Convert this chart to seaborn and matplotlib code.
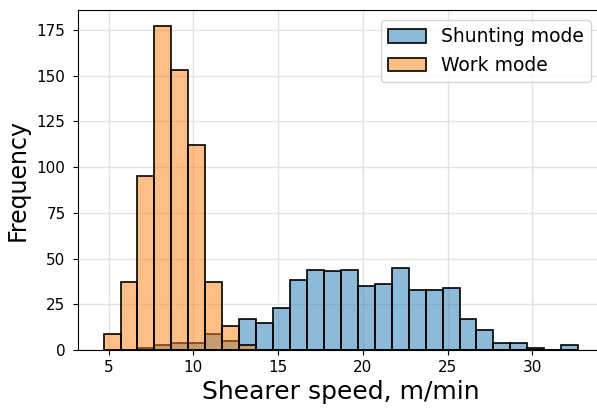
import numpy as np
import pandas as pd
import matplotlib
matplotlib.use("Agg")
import matplotlib.pyplot as plt
import seaborn as sns

# histogram counts per 1 m/min bin, bins start at 4.7 m/min
bin_start = 4.7
bin_width = 1.0
shunting_counts = [0, 0, 1, 3, 4, 4, 9, 5, 17, 15, 23, 38, 44, 43, 44,
                   35, 36, 45, 33, 33, 34, 17, 11, 4, 4, 1, 0, 3]
work_counts = [9, 37, 95, 177, 153, 112, 37, 13, 3, 0, 0, 0, 0, 0, 0,
               0, 0, 0, 0, 0, 0, 0, 0, 0, 0, 0, 0, 0]
mode_labels = ["Shunting mode", "Work mode"]

n_bins = len(shunting_counts)
edges = bin_start + bin_width * np.arange(n_bins + 1)
centers = (edges[:-1] + edges[1:]) / 2

df = pd.DataFrame({
    "speed": np.concatenate([centers, centers]),
    "count": shunting_counts + work_counts,
    "mode": [mode_labels[0]] * n_bins + [mode_labels[1]] * n_bins,
})

fig = plt.figure(figsize=(5.97, 4.08), dpi=100)
# right side of the axes runs just past the figure edge, like the reference crop
ax = fig.add_axes([78 / 597, 58 / 408, 525.6 / 597, 340 / 408])

sns.histplot(data=df, x="speed", weights="count", hue="mode",
             binwidth=bin_width, binrange=(edges[0], edges[-1]),
             hue_order=mode_labels, alpha=0.5, edgecolor="black",
             linewidth=1.2, ax=ax)

# put the orange (work mode) bars on top of the blue ones
for cont in ax.containers:
    fc = cont.patches[0].get_facecolor()
    if fc[0] > fc[2]:
        for p in cont.patches:
            p.set_zorder(3)

ax.set_xlim(3.19, 34.2)
ax.grid(True, color="#dddddd", linewidth=1, alpha=0.8)
ax.set_axisbelow(True)
ax.set_xticks([5, 10, 15, 20, 25, 30])
ax.set_yticks(np.arange(0, 176, 25))
ax.tick_params(labelsize=11)
ax.tick_params(axis="y", pad=5.5)
ax.set_xlabel("Shearer speed, m/min", fontsize=18, labelpad=4)
ax.set_ylabel("Frequency", fontsize=17, labelpad=5)

sns.move_legend(ax, "upper right", bbox_to_anchor=(591 / 597, 1 - 20 / 408),
                bbox_transform=fig.transFigure, borderaxespad=0,
                title=None, fontsize=13.5)

fig.savefig("out.png", dpi=100)
